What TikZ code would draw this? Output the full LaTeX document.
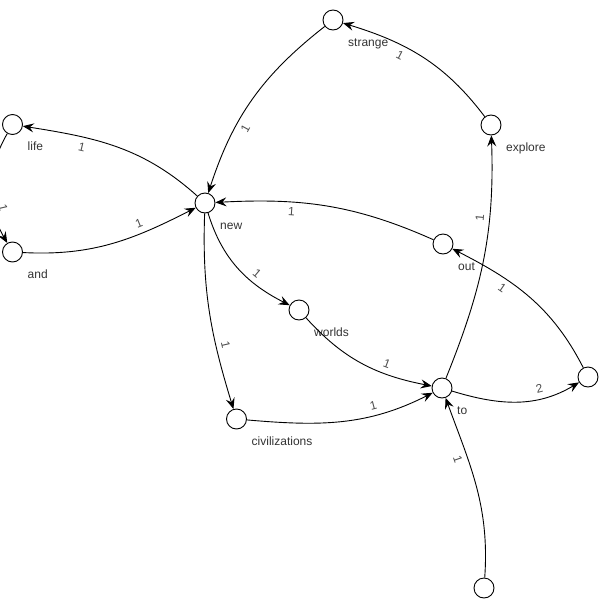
\documentclass[tikz,border=0pt]{standalone}
\usepackage{fontspec}
\setmainfont{Liberation Sans}
\usetikzlibrary{arrows.meta}
\begin{document}
\begin{tikzpicture}[x=1pt,y=1pt,
  state/.style={circle,draw=black,fill=white,line width=0.9pt,minimum size=20pt,inner sep=0pt},
  nlabel/.style={anchor=west,inner sep=0pt,font=\fontsize{12}{14}\selectfont,text=black!80,text height=8pt,text depth=2pt},
  link/.style={draw=black,line width=0.9pt,-{Stealth[length=11pt,width=9pt,inset=4pt]}},
  w/.style={auto,sloped,pos=0.67,inner sep=1.5pt,outer sep=4pt,font=\fontsize{12}{14}\selectfont,text=black!70}]
\useasboundingbox (0,0) rectangle (600,-600);
% states
\node[state] (strange) at (333,-20) {};
\node[state] (explore) at (491,-125) {};
\node[state] (life) at (12.5,-124.5) {};
\node[state] (new) at (205,-203) {};
\node[state] (and) at (12.5,-252) {};
\node[state] (out) at (443,-244) {};
\node[state] (worlds) at (299,-310) {};
\node[state] (civ) at (236.5,-419) {};
\node[state] (to) at (442,-388) {};
\node[state] (right) at (588,-377) {};
\node[state] (bottom) at (484,-588) {};
% state labels
\node[nlabel] (strangeL) at ([shift={(15,-23)}]strange.center) {strange};
\node[nlabel] (exploreL) at ([shift={(15,-23)}]explore.center) {explore};
\node[nlabel] (lifeL) at ([shift={(15,-23)}]life.center) {life};
\node[nlabel] (newL) at ([shift={(15,-23)}]new.center) {new};
\node[nlabel] (andL) at ([shift={(15,-23)}]and.center) {and};
\node[nlabel] (outL) at ([shift={(15,-23)}]out.center) {out};
\node[nlabel] (worldsL) at ([shift={(15,-23)}]worlds.center) {worlds};
\node[nlabel] (civL) at ([shift={(15,-23)}]civ.center) {civilizations};
\node[nlabel] (toL) at ([shift={(15,-23)}]to.center) {to};
% transitions
\draw[link] (explore) to[out=127,in=-17] node[w,swap,pos=0.63]{1} (strange);
\draw[link] (strange) to[out=218,in=72] node[w,swap,pos=0.65]{1} (new);
\draw[link] (new) to[out=138,in=-9] node[w,swap,pos=0.69]{1} (life);
\draw[link] (life) to[out=240,in=120] node[w,pos=0.7]{1} (and);
\draw[link] (and) to[out=-3,in=207] node[w,pos=0.69]{1} (new);
\draw[link] (out) to[out=156,in=3] node[w,swap]{1} (new);
\draw[link] (new) to[out=287,in=153] node[w,pos=0.65]{1} (worlds);
\draw[link] (new) to[out=268,in=107] node[w,pos=0.69]{1} (civ);
\draw[link] (worlds) to[out=312,in=169] node[w]{1} (to);
\draw[link] (civ) to[out=-5,in=207] node[w,pos=0.69]{1} (to);
\draw[link] (to) to[out=-17,in=211] node[w,pos=0.7]{2} (right);
\draw[link] (right) to[out=117,in=333] node[w,swap,pos=0.66]{1} (out);
\draw[link] (to) to[out=68,in=272] node[w,pos=0.68]{1} (explore);
\draw[link] (bottom) to[out=86,in=290] node[w,swap,pos=0.68]{1} (to);
\end{tikzpicture}
\end{document}
